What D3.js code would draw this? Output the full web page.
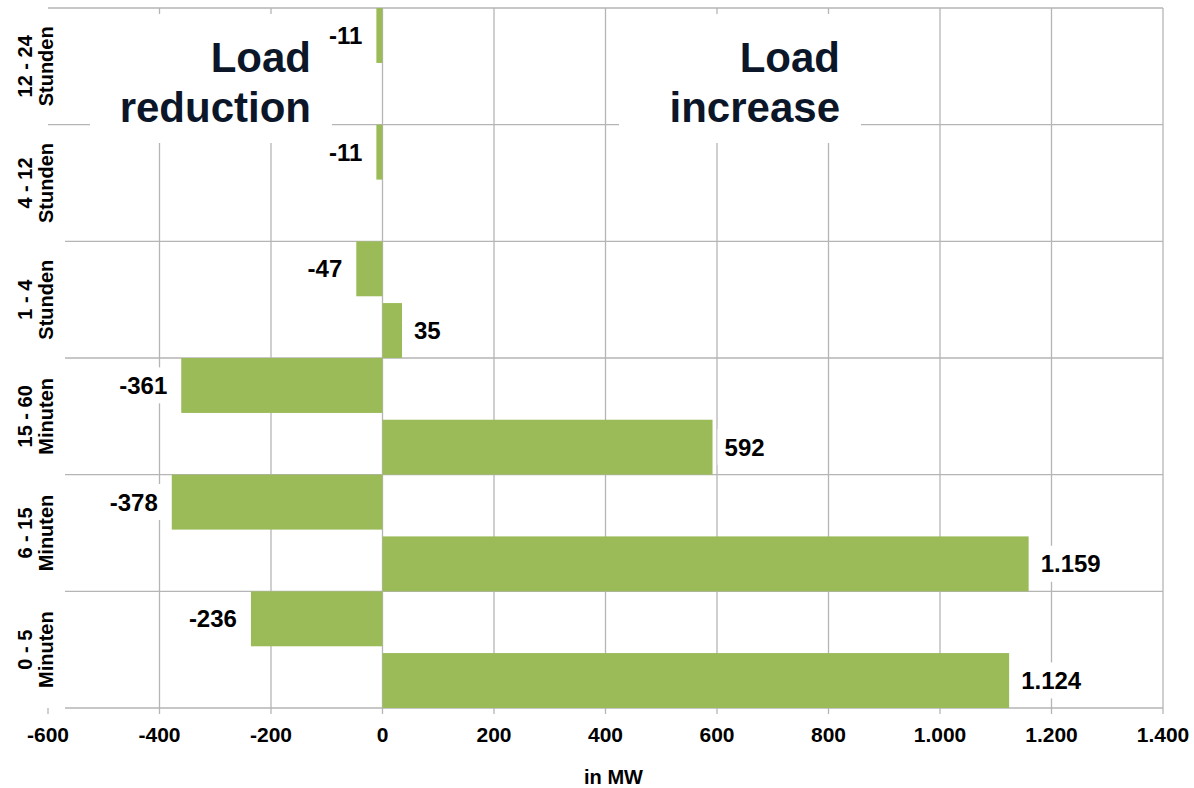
<!DOCTYPE html>
<html>
<head>
<meta charset="utf-8">
<script src="https://cdn.jsdelivr.net/npm/d3@7"></script>
<style>
  html, body { margin: 0; padding: 0; background: #fff; }
  svg { display: block; font-family: "Liberation Sans", Arial, sans-serif; }
</style>
</head>
<body>
<svg id="chart" width="1194" height="788"></svg>
<script>
// Flexibility duration bands (top to bottom)
const categoryRange = ["12 - 24", "4 - 12", "1 - 4", "15 - 60", "6 - 15", "0 - 5"];
const categoryUnit = ["Stunden", "Stunden", "Stunden", "Minuten", "Minuten", "Minuten"];

// Available flexibility in MW
const loadReduction = [-11, -11, -47, -361, -378, -236];
const loadIncrease = [null, null, 35, 592, 1159, 1124];

const seriesKeys = ["reduction", "increase"];
const xTicks = [-600, -400, -200, 0, 200, 400, 600, 800, 1000, 1200, 1400];
const xAxisTitle = "in MW";
const reductionTitle = ["Load", "reduction"];
const increaseTitle = ["Load", "increase"];

const rows = categoryRange.map((c, i) => ({
  key: c + " " + categoryUnit[i],
  range: c,
  unit: categoryUnit[i],
  reduction: loadReduction[i],
  increase: loadIncrease[i]
}));

const svg = d3.select("#chart");
const plot = { left: 48, right: 1163, top: 8, bottom: 708 };

const de = d3.formatLocale({ decimal: ",", thousands: ".", grouping: [3], currency: ["", " €"], minus: "-" });
const fmt = de.format(",d");

const x = d3.scaleLinear().domain([-600, 1400]).range([plot.left, plot.right]);
const y = d3.scaleBand().domain(rows.map(d => d.key)).range([plot.top, plot.bottom]).padding(0);
const ySub = d3.scaleBand().domain(seriesKeys).range([0, y.bandwidth()]).paddingInner(0.11).paddingOuter(0);

const gridColor = "#b5b5b5";
const barColor = "#9bbb59";
const titleColor = "#0b1629";

// Gridlines
const grid = svg.append("g").attr("stroke", gridColor).attr("stroke-width", 1.3);
grid.selectAll("line.v").data(xTicks).join("line")
  .attr("class", "v")
  .attr("x1", d => x(d)).attr("x2", d => x(d))
  .attr("y1", d => d === xTicks[0] ? plot.bottom : plot.top)
  .attr("y2", plot.bottom + 6);

const boundaries = rows.map(d => y(d.key)).concat([plot.bottom]);
grid.selectAll("line.h").data(boundaries).join("line")
  .attr("class", "h")
  .attr("x1", (d, i) => i < 2 ? plot.left : plot.left + 17)
  .attr("x2", plot.right)
  .attr("y1", d => d).attr("y2", d => d);

// Title boxes over the grid
function titleBox(lines, x0, x1, textRight) {
  svg.append("rect").attr("x", x0).attr("y", 14).attr("width", x1 - x0).attr("height", 129).attr("fill", "#fff");
  svg.append("text")
    .attr("text-anchor", "end")
    .attr("font-size", 42).attr("font-weight", "bold").attr("fill", titleColor)
    .selectAll("tspan").data(lines).join("tspan")
    .attr("x", textRight).attr("y", (d, i) => 72 + i * 50)
    .text(d => d);
}
titleBox(reductionTitle, 90, 332, 311);
titleBox(increaseTitle, 619, 861, 840);

// Bars
const barData = [];
rows.forEach(r => seriesKeys.forEach(k => {
  if (r[k] != null) barData.push({ row: r, key: k, value: r[k] });
}));

svg.append("g").selectAll("rect").data(barData).join("rect")
  .attr("x", d => x(Math.min(0, d.value)))
  .attr("width", d => Math.abs(x(d.value) - x(0)))
  .attr("y", d => y(d.row.key) + ySub(d.key))
  .attr("height", ySub.bandwidth())
  .attr("fill", barColor);

// Value labels with white backgrounds
const labels = svg.append("g").selectAll("g").data(barData).join("g");
labels.append("rect").attr("fill", "#fff");
labels.append("text")
  .attr("font-size", 24).attr("font-weight", "bold").attr("fill", "#000")
  .attr("text-anchor", d => d.value < 0 ? "end" : "start")
  .attr("x", d => d.value < 0 ? x(d.value) - 14 : x(d.value) + 12)
  .attr("y", d => y(d.row.key) + ySub(d.key) + ySub.bandwidth() / 2)
  .attr("dy", "0.35em")
  .text(d => fmt(d.value));
labels.each(function () {
  const g = d3.select(this);
  const b = g.select("text").node().getBBox();
  const cy = b.y + b.height / 2;
  g.select("rect")
    .attr("x", b.x - 7).attr("width", b.width + 14)
    .attr("y", cy - 18).attr("height", 36);
});

// Category labels (rotated, two lines)
const catG = svg.append("g").selectAll("text").data(rows).join("text")
  .attr("transform", d => `translate(32,${y(d.key) + y.bandwidth() / 2}) rotate(-90)`)
  .attr("text-anchor", "middle")
  .attr("font-size", 20).attr("font-weight", "bold").attr("fill", "#000");
catG.append("tspan").attr("x", 0).attr("y", 0).text(d => d.range);
catG.append("tspan").attr("x", 0).attr("y", 21).text(d => d.unit);

// X axis tick labels
svg.append("g").selectAll("text").data(xTicks).join("text")
  .attr("x", d => x(d)).attr("y", 742)
  .attr("text-anchor", "middle")
  .attr("font-size", 21).attr("font-weight", "bold").attr("fill", "#000")
  .text(d => fmt(d));

svg.append("text")
  .attr("x", x(400) + 8).attr("y", 784)
  .attr("text-anchor", "middle")
  .attr("font-size", 20).attr("font-weight", "bold").attr("fill", "#000")
  .text(xAxisTitle);
</script>
</body>
</html>
